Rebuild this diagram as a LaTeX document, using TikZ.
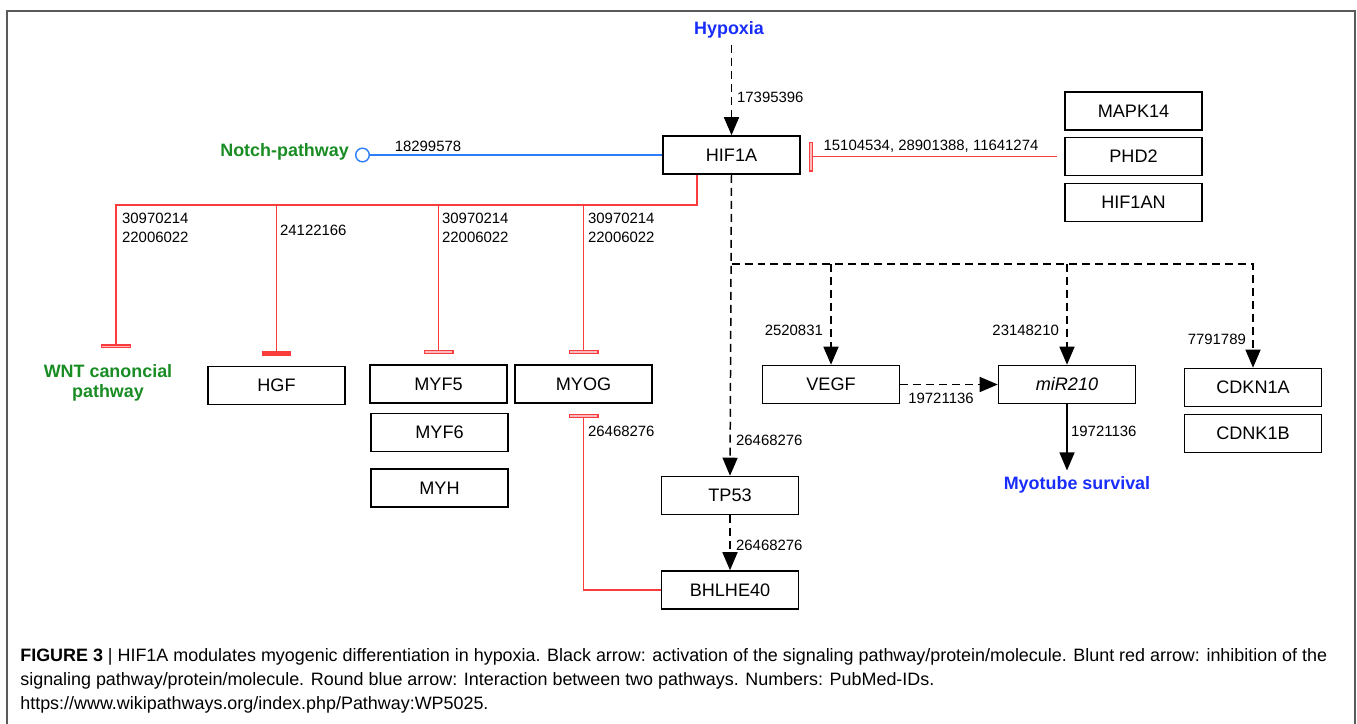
\documentclass[tikz,border=0pt]{standalone}
\usepackage{fontspec}
\setmainfont{Liberation Sans}
\usetikzlibrary{arrows.meta, positioning, calc}

\definecolor{hypblue}{RGB}{25,45,250}
\definecolor{pathgreen}{RGB}{25,140,35}
\definecolor{inhred}{RGB}{250,60,60}
\definecolor{linkblue}{RGB}{45,125,250}
\definecolor{framegray}{RGB}{90,90,90}

\tikzset{
  gene/.style={draw, line width=0.9pt, minimum width=2.74cm, minimum height=0.76cm,
    inner sep=0pt, font=\fontsize{10.3}{12}\selectfont},
  pmid/.style={inner sep=1pt, font=\fontsize{8.5}{10.6}\selectfont, align=left},
  tag/.style={font=\bfseries\fontsize{10.2}{11.4}\selectfont, align=center},
  actline/.style={line width=0.85pt, dash pattern=on 0.16cm off 0.1cm,
    -{Triangle[length=0.36cm,width=0.3cm]}},
  fullline/.style={line width=0.85pt, -{Triangle[length=0.36cm,width=0.3cm]}},
  inhline/.style={inhred, line width=0.7pt,
    -{Rectangle[width=0.6cm,length=0.08cm,fill=inhred!35]}, shorten >=0.2cm},
  inhfull/.style={inhred, line width=0.7pt,
    -{Rectangle[width=0.6cm,length=0.09cm,fill=inhred]}, shorten >=0.2cm},
  linkline/.style={linkblue, line width=0.8pt, -{Circle[open,length=0.3cm]}}
}

\begin{document}
\begin{tikzpicture}[x=0.02cm, y=-0.02cm]

\useasboundingbox (0,0) rectangle (1357,724);

% Rahmen
\draw[framegray, line width=0.6pt] (7,724) -- (7,11) -- (1355,11) -- (1355,724);

% Knoten
\node[tag, text=hypblue] (hyp) at (729,30) {Hypoxia};
\node[gene] (hif) at (731.5,155) {HIF1A};
\node[tag, text=pathgreen, anchor=east] (notch) at (355,152) {Notch-pathway};

\node[gene] (mapk) at (1133.5,111) {MAPK14};
\node[gene] (phd) at (1133.5,156.5) {PHD2};
\node[gene] (hifan) at (1133.5,202.5) {HIF1AN};

\node[tag, text=pathgreen] (wnt) at (108,383) {WNT canoncial\\pathway};
\node[gene] (hgf) at (276.5,385.5) {HGF};
\node[gene] (myfive) at (438.5,384) {MYF5};
\node[gene] (myfsix) at (439.5,432.5) {MYF6};
\node[gene] (myh) at (439.5,488) {MYH};
\node[gene] (myog) at (583.5,384) {MYOG};

\node[gene] (vegf) at (831,384.5) {VEGF};
\node[gene] (mir) at (1067,384.5) {\itshape miR210};
\node[gene] (cdkna) at (1253,387.5) {CDKN1A};
\node[gene] (cdknb) at (1253,433.5) {CDNK1B};

\node[gene] (tpf) at (730,495.5) {TP53};
\node[gene] (bhlhe) at (730,590) {BHLHE40};
\node[tag, text=hypblue] (myo) at (1077,485) {Myotube survival};

\coordinate (rj) at (697,205);
\coordinate (dj) at (731.5,264);

% Aktivierung
\draw[actline] (hif.north |- hyp.south) -- (hif.north);
\draw[actline] (hif.south) -- (tpf.north);
\draw[actline] (tpf.south) -- (bhlhe.north);
\draw[actline] (dj) -| (cdkna.north);
\draw[actline] (dj -| vegf.north) -- (vegf.north);
\draw[actline] (dj -| mir.north) -- (mir.north);
\draw[actline] (vegf.east) -- (mir.west);
\draw[fullline] (mir.south) -- (mir.south |- myo.north);

% Hemmung
\draw[inhline, shorten <=0.14cm, shorten >=0.16cm] (phd.west) -- (phd.west -| hif.east);
\draw[inhline] (rj |- hif.south) -- (rj) -| ([xshift=0.16cm]wnt.north);
\draw[inhfull] (rj -| hgf.north) -- (hgf.north);
\draw[inhline] (rj -| myfive.north) -- (myfive.north);
\draw[inhline] (rj -| myog.north) -- (myog.north);
\draw[inhline] (bhlhe.west) -| (myog.south);

% Interaktion
\draw[linkline] (hif.west) -- (hif.west -| notch.east);

% PubMed-IDs
\node[pmid, anchor=west] (pa) at (735,97) {17395396};
\node[pmid] (pb) at (428,146) {18299578};
\node[pmid] (pc) at (931,146) {15104534, 28901388, 11641274};
\node[pmid, anchor=west] (pd) at (120,228) {30970214\\22006022};
\node[pmid, anchor=west] (pe) at (278,230) {24122166};
\node[pmid, anchor=west] (pf) at (440,228) {30970214\\22006022};
\node[pmid, anchor=west] (pg) at (586,228) {30970214\\22006022};
\node[pmid, anchor=west] (ph) at (586,431) {26468276};
\node[pmid, anchor=west] (pi) at (734,440) {26468276};
\node[pmid, anchor=west] (pj) at (734,545) {26468276};
\node[pmid, anchor=east] (pk) at (825,330) {2520831};
\node[pmid, anchor=east] (pl) at (1061,330) {23148210};
\node[pmid, anchor=east] (pm) at (1248,339) {7791789};
\node[pmid] (pn) at (941,398) {19721136};
\node[pmid, anchor=west] (po) at (1069,431) {19721136};

% Legende
\node[anchor=north west, align=left, inner sep=0pt,
  font=\fontsize{10.2}{13.8}\selectfont] (cap) at (20,648)
  {\textbf{FIGURE 3} | HIF1A modulates myogenic differentiation in hypoxia. Black arrow: activation of the signaling pathway/protein/molecule. Blunt red arrow: inhibition of the\\
  signaling pathway/protein/molecule. Round blue arrow: Interaction between two pathways. Numbers: PubMed-IDs.\\
  https://www.wikipathways.org/index.php/Pathway:WP5025.};

\end{tikzpicture}
\end{document}
